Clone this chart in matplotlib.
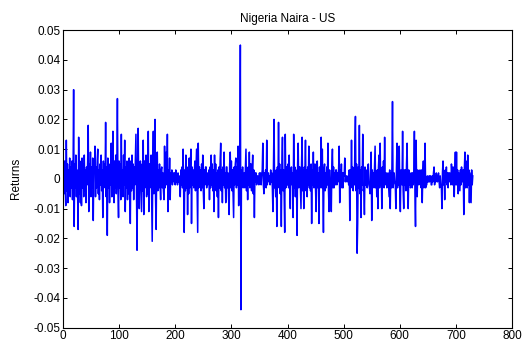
import matplotlib
matplotlib.use("Agg")
import matplotlib.pyplot as plt
import numpy as np

plt.rcParams['font.family'] = ['Liberation Sans', 'DejaVu Sans']

title = "Nigeria Naira - US"
ylabel = "Returns"
xticks = [0, 100, 200, 300, 400, 500, 600, 700, 800]
yticks = [-0.05, -0.04, -0.03, -0.02, -0.01, 0.0, 0.01, 0.02, 0.03, 0.04, 0.05]
ytick_labels = ["-0.05", "-0.04", "-0.03", "-0.02", "-0.01", "0",
                "0.01", "0.02", "0.03", "0.04", "0.05"]

# daily returns, in thousandths
returns_milli = [
    2, -5, 6, -3, -9, 13, -4, 5, -8, 3,
    -2, 7, -6, 4, -3, 6, -7, 2, 30, -16,
    5, -3, 8, -6, 3, -4, -17, 14, -5, 6,
    -8, 4, -9, 7, -3, 5, -6, 8, -4, 3,
    -8, 4, -2, 6, 18, -11, 5, -3, 9, -6,
    4, -3, 7, -14, 5, 2, 11, -6, 4, -3,
    6, 10, -5, 3, -7, 5, -2, 8, -4, 3,
    -13, 6, -3, 5, -2, 19, -6, 4, -19, 7,
    -3, 5, -8, 3, -2, 12, -6, 4, 16, -5,
    -8, 6, -3, 8, -5, 3, 27, -4, -13, 6,
    -3, 5, -7, 15, -4, 3, -6, 8, -2, 13,
    -11, 4, -3, 6, -7, 3, -5, 7, -2, -15,
    6, -4, 8, -3, 5, -7, 4, -2, 6, 15,
    -6, -24, 4, 17, -3, -10, 4, 6, -3, -11,
    5, -4, 13, -12, 6, -3, 5, 8, -6, 4,
    -5, 16, -11, 5, -3, 4, 8, -6, -21, 4,
    16, -5, 3, 20, -7, -17, 5, 9, -4, 3,
    -3, 5, -2, -7, 3, 4, -3, 2, -4, -7,
    11, -3, 4, 9, -2, 15, -11, 3, -2, 7,
    -7, 2, -1, 3, -2, 1, 2, -1, 2, -2,
    3, -1, 1, -2, 2, -1, 1, -2, -6, 3,
    -2, 4, -3, 10, -5, -18, 3, -4, 8, -3,
    4, -12, 3, -5, 7, -3, 5, 10, -15, 4,
    -2, 3, -3, 2, 6, -4, 3, 10, -5, -18,
    12, -3, 4, -2, 3, -4, 5, -3, 8, -4,
    -10, 3, -2, 4, 4, -3, 2, -2, 0, 3,
    -7, 4, -3, 8, -2, 5, -4, 3, -11, 8,
    -3, 5, -4, 2, -6, 3, -13, 4, -3, 6,
    12, -4, 3, -8, 4, -2, 9, -3, 2, -8,
    4, 4, -3, 2, -6, -12, 5, 9, -3, 6,
    -4, 3, -5, -13, 4, -2, 5, 7, -3, 4,
    -2, 11, -9, 3, -2, 45, -44, 3, -2, 4,
    -3, 0, 2, -3, 4, 10, -4, 3, -7, 4,
    -2, 9, -3, 5, 5, -4, 3, 8, -5, 3,
    -13, 2, -1, 2, -2, 1, 1, -1, -2, 2,
    -1, 2, -2, 1, 3, 12, -2, -5, 2, -1,
    3, -3, 13, -2, 2, 2, -1, 1, -2, 3,
    -1, 2, -3, -11, 4, 20, -3, -2, -6, 3,
    -16, 4, -3, 19, -2, 5, -5, 3, -16, 5,
    14, -4, 3, -5, -18, 15, -3, 4, -2, -2,
    5, -3, 8, -4, -10, 3, 4, -2, 2, -13,
    15, -3, 4, -6, 3, -2, -19, 5, 12, -3,
    4, 4, -3, -10, 5, 14, -4, 3, -10, 4,
    2, 13, -4, 3, -6, 4, -2, 11, -3, 3,
    -4, 5, -15, 3, -2, 9, -3, 4, 5, -4,
    -11, 4, 6, -3, 2, -15, 4, -3, 3, 14,
    -3, 10, -5, -18, 3, 5, -4, 2, -3, 4,
    -2, 12, -4, -11, 3, -2, -2, -11, 4, 10,
    -3, 4, -3, 2, -2, 3, 3, -2, 2, -1,
    3, 11, -8, 3, -2, 5, -3, 2, -3, 2,
    1, 7, -1, 1, 1, -1, 0, 1, -2, 3,
    -14, 3, -2, 13, -3, 4, -4, 3, -2, 11,
    21, -4, 5, -25, -15, 4, -3, 18, -5, 3,
    -13, 4, -2, 15, -4, -3, -12, 4, -2, 3,
    1, -3, 4, 5, -2, -3, -5, 2, 9, -14,
    3, -2, 2, -3, 4, 11, -3, 2, -6, 3,
    -10, 4, 8, -3, 12, -2, 3, -10, 4, -2,
    6, -3, 14, -2, 0, 2, -3, -1, 2, -2,
    -6, 3, -10, 2, -3, 4, 26, -3, -1, 2,
    -1, -2, -10, 3, 12, -3, 5, -2, 11, -4,
    -11, 3, 2, -2, 16, -4, -10, 3, -2, 3,
    -4, 5, 12, -3, -10, 3, -2, 2, -3, -2,
    2, -3, 2, -2, 3, 16, -4, -16, 13, -2,
    -6, 3, 1, -2, 2, 3, 2, -3, 3, -8,
    2, 6, -3, 2, 12, -3, -2, -2, 1, -1,
    -1, 1, -1, 1, 1, -2, -2, 1, -1, 2,
    4, -2, 1, -1, 2, 0, -1, 1, 2, -1,
    -3, 1, -2, -2, -10, 2, 6, -2, 1, -7,
    3, -1, 4, -2, 2, -3, 2, -1, 2, 1,
    -2, 5, 2, -2, 4, 1, -6, 3, 9, -2,
    9, -2, 3, -5, 2, -1, -4, 3, -2, 4,
    -1, 2, 3, -12, 3, 9, -3, 6, 2, -3,
    8, -2, 3, -8, 2, -3, -8, 3, -2, 1,
]

returns = np.array(returns_milli, dtype=float) / 1000.0
days = np.arange(1, len(returns) + 1)

fig = plt.figure(figsize=(5.29, 3.43), dpi=100)
ax = fig.add_axes([0.119, 0.045, 0.849, 0.867])
ax.plot(days, returns, color=(0, 0, 1), linewidth=1.1)

ax.set_xlim(0, 800)
ax.set_ylim(-0.05, 0.05)
ax.set_xticks(xticks)
ax.set_xticklabels([str(t) for t in xticks])
ax.set_yticks(yticks)
ax.set_yticklabels(ytick_labels)
ax.tick_params(direction='in', length=3, width=0.7, top=True, right=True,
               labelsize=8.5, pad=2, colors='black')
for s in ax.spines.values():
    s.set_linewidth(0.8)
ax.set_title(title, fontsize=8.5, pad=6)
ax.set_ylabel(ylabel, fontsize=8.5, labelpad=8)

fig.savefig("out.png", dpi=100)
